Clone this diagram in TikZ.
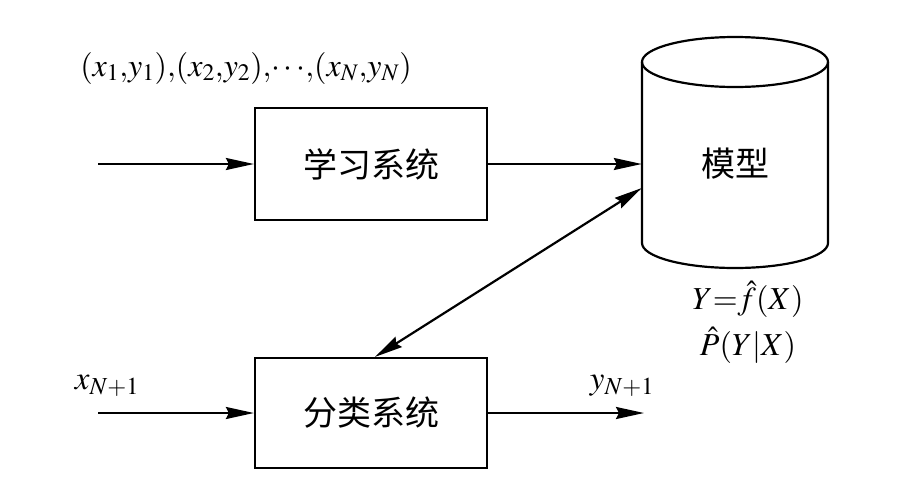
\documentclass[tikz,border=0pt]{standalone}
\usepackage{mathptmx}
\usepackage{fontspec}
\setmainfont{Liberation Serif}
\newfontfamily\cjk{Noto Sans CJK SC}
\usetikzlibrary{arrows.meta,calc}
\tikzset{
  ln/.style={line width=2.2pt},
  tip/.tip={Stealth[length=28pt,width=12pt,inset=3pt]},
  arr/.style={ln,-tip},
  darr/.style={ln,tip-tip},
  sysbox/.style={draw,ln,minimum width=232pt,inner sep=0pt,font=\cjk\fontsize{34}{36}\selectfont},
  lbl/.style={inner sep=0pt,font=\fontsize{32}{38}\selectfont}
}
\begin{document}
\begin{tikzpicture}[x=1pt,y=-1pt]
\useasboundingbox (0,0) rectangle (910,488);
% boxes
\node[sysbox,minimum height=112pt] (learn) at (371,164) {学习系统};
\node[sysbox,minimum height=110pt] (classify) at (371,413) {分类系统};
% model (cylinder)
\node[inner sep=0pt,minimum width=186pt,minimum height=150pt,font=\cjk\fontsize{34}{36}\selectfont] (model) at (735,164) {模型};
\draw[ln] (735,62) ellipse [x radius=93pt, y radius=25pt];
\draw[ln] (642,62) -- (642,243) arc[start angle=180,end angle=360,x radius=93pt,y radius=25pt] -- (828,62);
% free ends
\coordinate (in1) at (98,164);
\coordinate (in2) at (98,413);
\coordinate (out2) at (644,413);
% connectors
\draw[arr] (in1) -- (learn.west);
\draw[arr] (learn.east) -- (model.west);
\draw[darr] ($(model.west)+(0,24)$) -- ($(classify.north)+(4,0)$);
\draw[arr] (in2) -- (classify.west);
\draw[arr] (classify.east) -- (out2);
% labels
\node[lbl] (data) at (246,68) {$(x_1{,}y_1){,}(x_2{,}y_2){,}{\cdots}{,}(x_N{,}y_N)$};
\node[lbl,font=\fontsize{33}{38}\selectfont] (xin) at (107,386) {$x_{N+1}$};
\node[lbl,font=\fontsize{33}{38}\selectfont] (yout) at (622,386) {$y_{N+1}$};
\node[lbl,align=center,font=\fontsize{32}{46}\selectfont] (eq) at (748,322) {$Y{=}\hat{f}(X)$\\$\hat{P}(Y|X)$};
\end{tikzpicture}
\end{document}
